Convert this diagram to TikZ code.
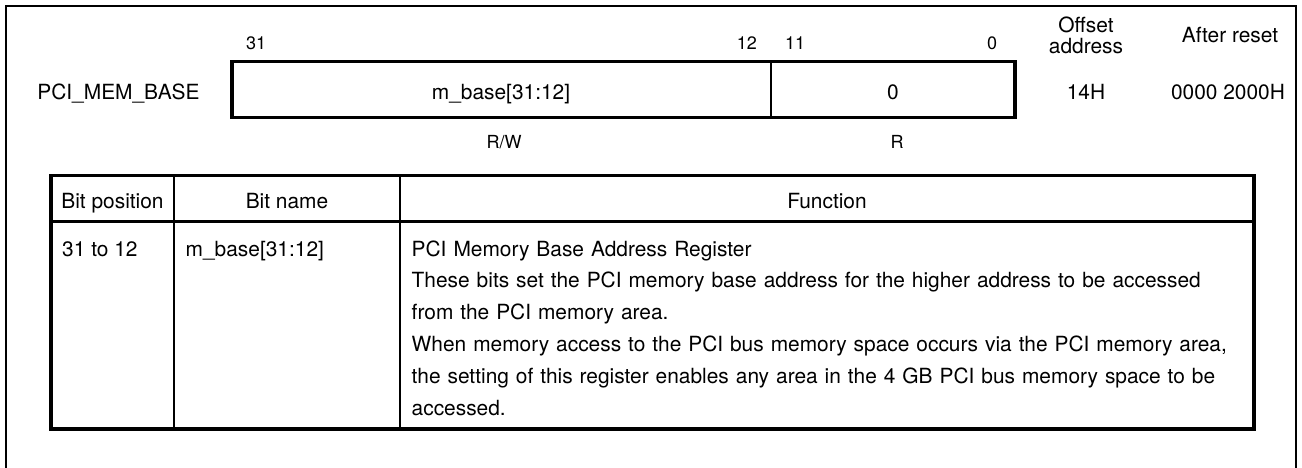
\documentclass[tikz,border=0pt]{standalone}
\usepackage{fontspec}
\setmainfont{TeX Gyre Heros}
\begin{document}
\begin{tikzpicture}[x=1pt,y=-1pt,
  txt/.style={inner sep=0pt,font=\fontsize{20.9}{25}\selectfont},
  small/.style={inner sep=0pt,font=\fontsize{18}{21}\selectfont},
  frame/.style={line width=2pt},
  heavy/.style={line width=3.2pt},
  thin/.style={line width=1.8pt}]
\useasboundingbox (0,0) rectangle (1302,467);

% outer frame, open at the bottom
\draw[frame] (6,470) -- (6,6) -- (1295.5,6) -- (1295.5,470);

% register layout
\draw[heavy] (232,61.5) rectangle (1015,117.5);
\draw[thin] (771,61.5) -- (771,117.5);

\node[small,anchor=base west] (b31) at (246,49) {31};
\node[small,anchor=base east] (b12) at (757,49) {12};
\node[small,anchor=base west] (b11) at (785,49) {11};
\node[small,anchor=base] (b0) at (992,49) {0};

\node[txt,anchor=base] (offs1) at (1086,32) {Offset};
\node[txt,anchor=base] (offs2) at (1086,53) {address};
\node[txt,anchor=base] (rsthd) at (1230,42) {After reset};

\node[txt,anchor=base] (regname) at (118.5,99) {PCI\_MEM\_BASE};
\node[txt,anchor=base] (fhi) at (501,99) {m\_base[31:12]};
\node[txt,anchor=base] (flo) at (893,99) {0};
\node[txt,anchor=base] (offv) at (1086,99) {14H};
\node[txt,anchor=base] (rstv) at (1228,99) {0000 2000H};

\node[small,anchor=base] (rwhi) at (504,148) {R/W};
\node[small,anchor=base] (rwlo) at (897,148) {R};

% bit description table
\draw[heavy] (51,175.5) rectangle (1254,429);
\draw[heavy] (51,221.5) -- (1254,221.5);
\draw[thin] (174,175.5) -- (174,429);
\draw[thin] (400,175.5) -- (400,429);

\node[txt,anchor=base] (hpos) at (112.5,208) {Bit position};
\node[txt,anchor=base] (hname) at (287,208) {Bit name};
\node[txt,anchor=base] (hfunc) at (827,208) {Function};

\node[txt,anchor=base west] (cpos) at (62,256) {31 to 12};
\node[txt,anchor=base west] (cname) at (185.5,256) {m\_base[31:12]};
\node[inner sep=0pt,anchor=base west,text width=830pt,align=left,
      font=\fontsize{20.9}{31.8}\selectfont] (cfunc) at (411.5,256)
  {PCI Memory Base Address Register\\
   These bits set the PCI memory base address for the higher address to be accessed\\
   from the PCI memory area.\\
   When memory access to the PCI bus memory space occurs via the PCI memory area,\\
   the setting of this register enables any area in the 4 GB PCI bus memory space to be\\
   accessed.};
\end{tikzpicture}
\end{document}
